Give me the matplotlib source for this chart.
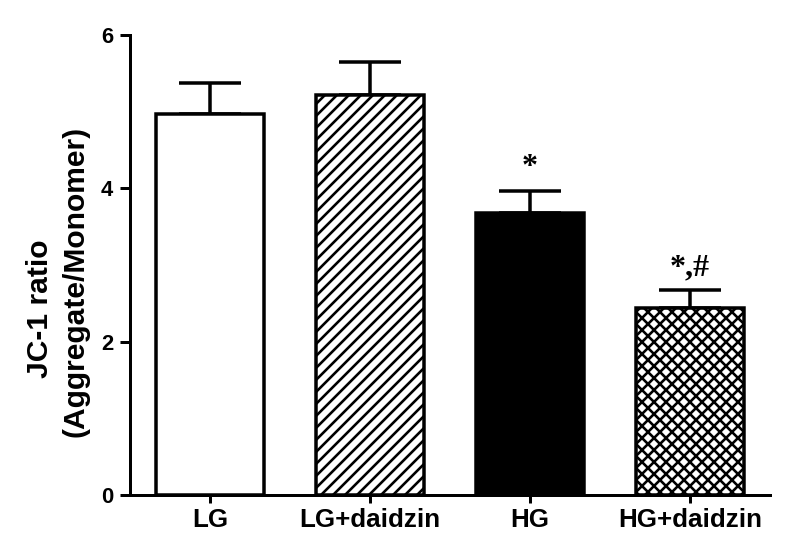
import numpy as np
import matplotlib
matplotlib.use("Agg")
import matplotlib.pyplot as plt

# values
groups = ['LG', 'LG+daidzin', 'HG', 'HG+daidzin']
means = [4.97, 5.22, 3.68, 2.44]
sems = [0.41, 0.43, 0.29, 0.23]
fills = ['white', 'white', 'black', 'white']
hatches = ['', '//', '', 'xx']
marks = ['', '', '*', '*,#']

plt.rcParams['font.family'] = ['Liberation Sans', 'DejaVu Sans']
plt.rcParams['font.weight'] = 'bold'
plt.rcParams['hatch.linewidth'] = 2.6

W, H = 787, 557
fig = plt.figure(figsize=(W / 72, H / 72), dpi=72)
ax = fig.add_axes([130 / W, (H - 495) / H, 640 / W, 460 / H])

x = np.arange(len(groups))

# error bars (upper only), drawn under bars
ax.errorbar(x, means, yerr=[np.zeros(len(means)), sems], fmt='none',
            ecolor='black', elinewidth=3.5, capsize=31, capthick=3.5, zorder=1)

bars = ax.bar(x, means, width=0.67, color=fills, edgecolor='black',
              linewidth=3.5, zorder=2)
for b, h in zip(bars, hatches):
    b.set_hatch(h)

# significance marks
for xi, m, s, t in zip(x, means, sems, marks):
    if t:
        ax.text(xi, m + s + 0.2, t, ha='center', va='baseline',
                fontsize=32, family='Liberation Serif', fontweight='bold')

ax.set_xlim(-0.5, 3.5)
ax.set_ylim(0, 6)
ax.set_yticks([0, 2, 4, 6])
ax.set_xticks(x)
ax.set_xticklabels(groups)

for side in ['top', 'right']:
    ax.spines[side].set_visible(False)
for side in ['left', 'bottom']:
    ax.spines[side].set_linewidth(3)

ax.tick_params(axis='y', length=10, width=3, labelsize=22, pad=7)
ax.tick_params(axis='x', length=8, width=3, labelsize=26, pad=5)
for lbl in ax.get_xticklabels() + ax.get_yticklabels():
    lbl.set_fontweight('bold')

fig.text(40 / W, 1 - 309 / H, 'JC-1 ratio', rotation=90, ha='center',
         va='center', fontsize=30, fontweight='bold')
fig.text(76 / W, 1 - 281 / H, '(Aggregate/Monomer)', rotation=90, ha='center',
         va='center', fontsize=30, fontweight='bold')

fig.savefig('out.png', dpi=72)
